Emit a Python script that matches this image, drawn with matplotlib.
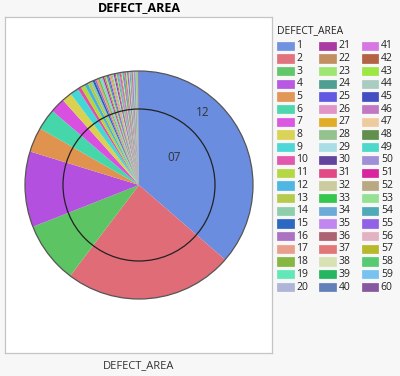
import matplotlib

matplotlib.use("Agg")
import matplotlib.pyplot as plt
from matplotlib.patches import Circle, Rectangle

plt.rcParams["font.family"] = ["Open Sans", "DejaVu Sans"]

W, H = 400, 376
BG = "#f7f7f7"
TXT = "#222222"

# Category labels 1..60 and their share of the pie.
categories = [str(i) for i in range(1, 61)]
counts = [
    363, 239, 87, 107, 35, 30, 21, 14, 12, 5,
    6, 5, 4, 3.5, 3, 2.5, 2.5, 2.5, 2.2, 2.2,
    2.0, 1.9, 1.9, 1.8, 1.8, 1.7, 1.7, 1.6, 1.6, 1.5,
    1.5, 1.4, 1.4, 1.4, 1.3, 1.3, 1.3, 1.2, 1.2, 1.2,
    1.2, 1.2, 1.1, 1.1, 1.1, 1.1, 1.1, 1.1, 1.0, 1.0,
    1.0, 1.0, 1.0, 1.0, 1.0, 1.0, 1.0, 1.0, 1.0, 1.0,
]
colors = [
    "#6a8de0", "#e06c78", "#5cc462", "#b450e0", "#e0924f",
    "#45d6aa", "#d94fe0", "#d9d14f", "#45d6d6", "#e04fa8",
    "#b3d63a", "#45b3e0", "#b3c945", "#88cca8", "#2060c0",
    "#a86bc0", "#e89c86", "#80b33a", "#5ae8b5", "#aab2d6",
    "#a6309f", "#c08a5a", "#99e66b", "#45998c", "#5a50e0",
    "#e08fc6", "#e0a81a", "#8fbf8a", "#a6dde6", "#5a3a99",
    "#e04080", "#c9c99a", "#2ac445", "#66a6d6", "#c080f0",
    "#a85a6b", "#e07070", "#d6e0b0", "#1ab35a", "#5a7ab5",
    "#d670e0", "#b05a3a", "#99e63a", "#a6c9bf", "#3a45c0",
    "#c070bf", "#f0c89a", "#5a8a45", "#45d6c9", "#9a8ad6",
    "#d61a99", "#b5a57e", "#8fe08f", "#45a6b5", "#8a5ae6",
    "#e0b0c0", "#b5b520", "#4fc96b", "#70bff0", "#80509a",
]
ring_labels = ["12", "07"]


def fx(px):
    return px / W


def fy(py):
    return 1 - py / H


fig = plt.figure(figsize=(W / 100, H / 100), dpi=100, facecolor=BG)

# pie panel (pixel geometry of the framed plot area)
left, top, right, bottom = 5, 17, 272, 353
cx, cy, R = 139, 185, 114
ax = fig.add_axes([fx(left), fy(bottom), fx(right - left), (bottom - top) / H])
ax.pie(
    counts,
    colors=colors,
    startangle=90,
    counterclock=False,
    radius=1.0,
    wedgeprops=dict(linewidth=0, antialiased=True),
)
ax.add_patch(Circle((0, 0), 1.0, fill=False, edgecolor="#555555", linewidth=0.9))
ax.add_patch(Circle((0, 0), 76 / R, fill=False, edgecolor="#222222", linewidth=0.9))
ax.text(0.561, 0.632, ring_labels[0], ha="center", va="center", fontsize=8.5, color="#333333")
ax.text(0.307, 0.237, ring_labels[1], ha="center", va="center", fontsize=8.5, color="#333333")

ax.set_frame_on(True)
ax.set_facecolor("white")
ax.set_xlim((left - cx) / R, (right - cx) / R)
ax.set_ylim((cy - bottom) / R, (cy - top) / R)
ax.set_aspect("auto")
ax.set_xticks([])
ax.set_yticks([])
for sp in ax.spines.values():
    sp.set_edgecolor("#c4c4c4")
    sp.set_linewidth(0.9)

fig.text(fx(139), fy(8), "DEFECT_AREA", ha="center", va="center",
         fontsize=9, fontweight="bold", color="black")
fig.text(fx(139), fy(366), "DEFECT_AREA", ha="center", va="center",
         fontsize=8, color="#333333")

# legend, three columns of twenty
fig.text(fx(277), fy(31), "DEFECT_AREA", ha="left", va="center",
         fontsize=7.5, color=TXT)
col_x = [277.3, 319.3, 361.7]
row0, row_step = 45.7, 12.7
sw_w, sw_h = 16.7, 8.3
for i, (lab, col) in enumerate(zip(categories, colors)):
    c, r = divmod(i, 20)
    x0 = col_x[c]
    yc = row0 + r * row_step
    fig.patches.append(Rectangle(
        (fx(x0), fy(yc + sw_h / 2)), sw_w / W, sw_h / H,
        transform=fig.transFigure, facecolor=col, edgecolor=col,
        linewidth=0.5, alpha=0.95,
    ))
    fig.text(fx(x0 + sw_w + 2.4), fy(yc), lab, ha="left", va="center",
             fontsize=7.5, color=TXT)

fig.savefig("out.png", dpi=100, facecolor=BG)
